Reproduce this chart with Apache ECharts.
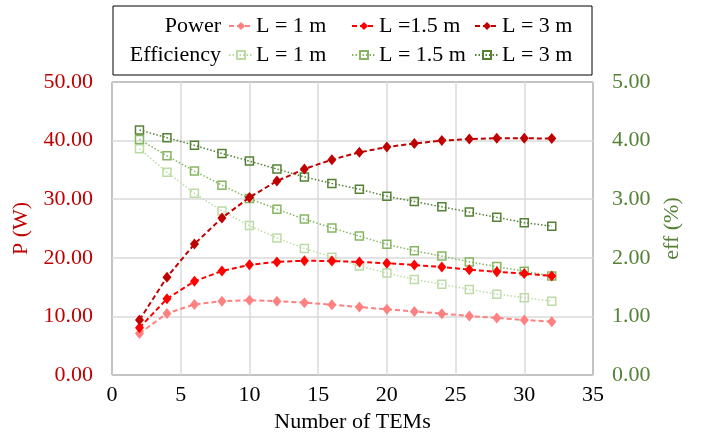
<!DOCTYPE html>
<html>
<head>
<meta charset="utf-8">
<script src="https://cdn.jsdelivr.net/npm/echarts@6/dist/echarts.min.js"></script>
<style>html,body{margin:0;padding:0;background:#fff;}#c{width:703px;height:444px;}</style>
</head>
<body>
<div id="c"></div>
<script>
// Number of TEMs
var tems = [2, 4, 6, 8, 10, 12, 14, 16, 18, 20, 22, 24, 26, 28, 30, 32];
// Power (W)
var powerL1  = [7.1, 10.5, 12.05, 12.6, 12.75, 12.6, 12.35, 12.0, 11.6, 11.2, 10.85, 10.47, 10.07, 9.73, 9.39, 9.1];
var powerL15 = [8.07, 13.0, 16.0, 17.75, 18.8, 19.3, 19.5, 19.45, 19.3, 19.07, 18.77, 18.43, 17.97, 17.6, 17.3, 16.9];
var powerL3  = [9.4, 16.7, 22.35, 26.8, 30.3, 33.1, 35.15, 36.75, 38.0, 38.9, 39.5, 40.0, 40.27, 40.4, 40.4, 40.35];
// Efficiency (%)
var effL1  = [3.86, 3.46, 3.10, 2.80, 2.55, 2.34, 2.16, 2.01, 1.86, 1.74, 1.63, 1.55, 1.46, 1.38, 1.32, 1.26];
var effL15 = [4.02, 3.74, 3.48, 3.24, 3.01, 2.83, 2.66, 2.51, 2.37, 2.23, 2.12, 2.03, 1.93, 1.85, 1.77, 1.69];
var effL3  = [4.18, 4.05, 3.92, 3.78, 3.65, 3.515, 3.38, 3.27, 3.17, 3.05, 2.96, 2.87, 2.78, 2.69, 2.60, 2.54];
var legendLabels = ['L = 1 m', 'L =1.5 m', 'L = 3 m', 'L = 1 m', 'L = 1.5 m', 'L = 3 m'];
var xName = 'Number of TEMs', yLeftName = 'P (W)', yRightName = 'eff (%)';

var FONT = 'Liberation Serif';
function pairs(v) { return tems.map(function (t, i) { return [t, v[i]]; }); }

var specs = [
  {name: 'pL1',  data: powerL1,  color: '#FF8080', eff: false},
  {name: 'pL15', data: powerL15, color: '#FF0000', eff: false},
  {name: 'pL3',  data: powerL3,  color: '#C00000', eff: false},
  {name: 'eL1',  data: effL1,    color: '#BCDCA5', eff: true},
  {name: 'eL15', data: effL15,   color: '#86B661', eff: true},
  {name: 'eL3',  data: effL3,    color: '#548235', eff: true}
];

var series = specs.map(function (s) {
  return {
    name: s.name, type: 'line', yAxisIndex: s.eff ? 1 : 0,
    data: pairs(s.data),
    symbol: s.eff ? 'rect' : 'diamond',
    symbolSize: s.eff ? 8 : [9, 11],
    showSymbol: true,
    lineStyle: s.eff ? {color: s.color, width: 1.5, type: [1.5, 2]} : {color: s.color, width: 2, type: [5, 3]},
    itemStyle: s.eff ? {color: 'rgba(255,255,255,0)', borderColor: s.color, borderWidth: 1.5} : {color: s.color},
    emphasis: {disabled: true},
    animation: false,
    z: s.eff ? 2 : 3
  };
});

var legendLefts = [228, 351, 474];
var legends = specs.map(function (s, i) {
  return {
    data: [s.name], left: legendLefts[i % 3], top: i < 3 ? 15 : 44,
    itemWidth: 24, itemHeight: 10, itemGap: 0, padding: 0,
    formatter: function () { return legendLabels[i]; },
    textStyle: {fontFamily: FONT, fontSize: 22, color: '#000', padding: [0, 0, 0, -2]},
    selectedMode: false
  };
});

var chart = echarts.init(document.getElementById('c'));
chart.setOption({
  animation: false,
  backgroundColor: '#fff',
  grid: {left: 112, right: 110, top: 82, bottom: 69, show: true, borderColor: '#000', borderWidth: 1},
  legend: legends,
  graphic: [
    {type: 'rect', shape: {x: 113, y: 6, width: 479, height: 69}, style: {fill: 'none', stroke: '#000', lineWidth: 1}},
    {type: 'text', x: 221, y: 26, style: {text: 'Power', font: '22px "' + FONT + '"', fill: '#000', textAlign: 'right', textVerticalAlign: 'middle'}},
    {type: 'text', x: 221, y: 55.5, style: {text: 'Efficiency', font: '22px "' + FONT + '"', fill: '#000', textAlign: 'right', textVerticalAlign: 'middle'}}
  ],
  xAxis: {
    type: 'value', min: 0, max: 35, interval: 5,
    name: xName, nameLocation: 'middle', nameGap: 35,
    nameTextStyle: {fontFamily: FONT, fontSize: 22, color: '#000'},
    axisLine: {show: false}, axisTick: {show: false},
    axisLabel: {fontFamily: FONT, fontSize: 22, color: '#000', margin: 9},
    splitLine: {show: true, lineStyle: {color: '#DADADA', width: 1.5}}
  },
  yAxis: [
    {
      type: 'value', min: 0, max: 50, interval: 10, position: 'left',
      name: yLeftName, nameLocation: 'middle', nameGap: 77,
      nameTextStyle: {fontFamily: FONT, fontSize: 22, color: '#C00000'},
      axisLine: {show: false}, axisTick: {show: false},
      axisLabel: {fontFamily: FONT, fontSize: 22, color: '#C00000', margin: 19,
        formatter: function (v) { return v.toFixed(2); }},
      splitLine: {show: true, lineStyle: {color: '#DADADA', width: 1.5}}
    },
    {
      type: 'value', min: 0, max: 5, interval: 1, position: 'right',
      name: yRightName, nameLocation: 'middle', nameGap: 66,
      nameTextStyle: {fontFamily: FONT, fontSize: 22, color: '#538135'},
      axisLine: {show: false}, axisTick: {show: false},
      axisLabel: {fontFamily: FONT, fontSize: 22, color: '#538135', margin: 19,
        formatter: function (v) { return v.toFixed(2); }},
      splitLine: {show: false}
    }
  ],
  series: series
});
</script>
</body>
</html>
